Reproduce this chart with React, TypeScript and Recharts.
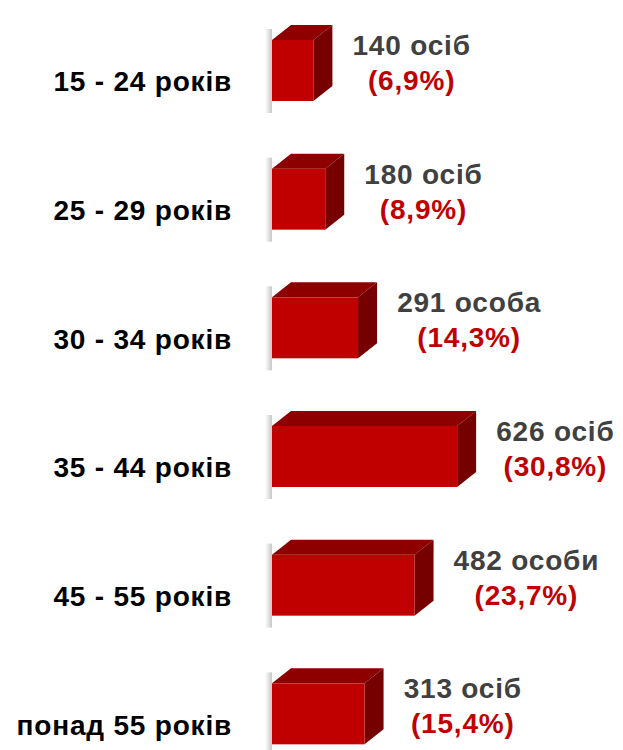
import { Bar, BarChart, LabelList, XAxis, YAxis } from "recharts";

const categories = ["15 - 24 років", "25 - 29 років", "30 - 34 років", "35 - 44 років", "45 - 55 років", "понад 55 років"];
const counts = [140, 180, 291, 626, 482, 313];
const countLabels = ["140 осіб", "180 осіб", "291 особа", "626 осіб", "482 особи", "313 осіб"];
const shares = ["(6,9%)", "(8,9%)", "(14,3%)", "(30,8%)", "(23,7%)", "(15,4%)"];

const data = categories.map((age, i) => ({
  age,
  count: counts[i],
  countLabel: countLabels[i],
  share: shares[i],
}));

const DX = 19;
const DY = 15;
const FONT = '"Liberation Sans", Arial, sans-serif';
const FS = 28;
const LS = 0.8;

// rough Arial Bold advance widths (em), used to centre the second label line under the first
const charW: Record<string, number> = {
  " ": 0.278, "(": 0.333, ")": 0.333, ",": 0.278, "%": 0.889,
  "і": 0.278, "о": 0.611, "с": 0.556, "б": 0.611, "а": 0.556, "и": 0.611,
};
const textWidth = (s: string) =>
  s.split("").reduce((sum, ch) => sum + (/[0-9]/.test(ch) ? 0.556 : charW[ch] ?? 0.58) * FS + LS, 0);

function Box3D(props: any) {
  const { x, y, width, height, index } = props;
  const gid = `bar-shadow-${index}`;
  return (
    <g>
      <defs>
        <linearGradient id={gid} x1="0" y1="0" x2="1" y2="0">
          <stop offset="0%" stopColor="#000" stopOpacity={0} />
          <stop offset="100%" stopColor="#000" stopOpacity={0.22} />
        </linearGradient>
      </defs>
      <rect x={x - 7} y={y - DY + 4} width={7} height={height + DY + 8} fill={`url(#${gid})`} />
      <polygon
        points={`${x},${y} ${x + DX},${y - DY} ${x + width + DX},${y - DY} ${x + width},${y}`}
        fill="#8E0000"
      />
      <polygon
        points={`${x + width},${y} ${x + width + DX},${y - DY} ${x + width + DX},${y + height - DY} ${x + width},${y + height}`}
        fill="#760000"
      />
      <rect x={x} y={y} width={width} height={height} fill="#C00000" />
    </g>
  );
}

function ValueLabel(props: any) {
  const { x, y, width, value, index } = props;
  const left = x + width + DX + 20;
  const cx = left + textWidth(String(value)) / 2;
  return (
    <g fontFamily={FONT} fontWeight="bold" fontSize={FS} letterSpacing={LS} textAnchor="middle">
      <text x={cx} y={y + 15} fill="#404040">
        {value}
      </text>
      <text x={cx} y={y + 50} fill="#C00000">
        {data[index].share}
      </text>
    </g>
  );
}

function AgeTick(props: any) {
  const { y, payload } = props;
  return (
    <text
      x={232}
      y={y + 21}
      textAnchor="end"
      fontFamily={FONT}
      fontWeight="bold"
      fontSize={FS}
      letterSpacing={LS}
      fill="#000"
    >
      {payload.value}
    </text>
  );
}

export default function App() {
  return (
    <div style={{ position: "absolute", left: 0, top: 0, width: 623, height: 750, overflow: "hidden", background: "#fff" }}>
      <BarChart
        width={623}
        height={780}
        data={data}
        layout="vertical"
        margin={{ top: 6, right: 144, bottom: 2, left: 0 }}
      >
        <XAxis type="number" domain={[0, 700]} hide />
        <YAxis
          type="category"
          dataKey="age"
          width={272}
          axisLine={false}
          tickLine={false}
          tick={<AgeTick />}
        />
        <Bar dataKey="count" barSize={61} shape={<Box3D />} isAnimationActive={false}>
          <LabelList dataKey="countLabel" content={<ValueLabel />} />
        </Bar>
      </BarChart>
    </div>
  );
}
